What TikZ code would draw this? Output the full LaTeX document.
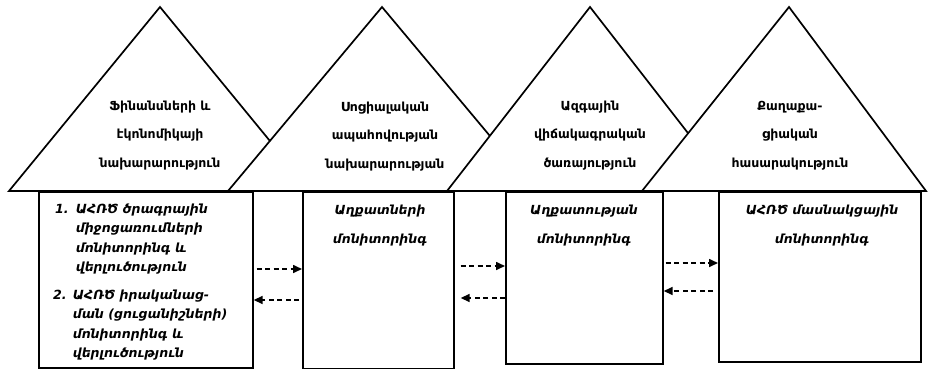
\documentclass[tikz,border=0pt]{standalone}
\usepackage{fontspec}
\setmainfont{DejaVu Sans}
\usetikzlibrary{arrows.meta}
\tikzset{
  tri/.style={draw=black, fill=white, line width=1.7pt, line join=miter},
  boxnode/.style={draw=black, fill=white, line width=1.7pt, anchor=north west, inner sep=0pt},
  tritxt/.style={font=\bfseries\fontsize{12.5}{28.3}\selectfont, align=center, inner sep=0pt, anchor=north},
  boxtxt/.style={font=\bfseries\itshape\fontsize{12.5}{29}\selectfont, align=center, inner sep=0pt, anchor=north},
  listtxt/.style={font=\bfseries\itshape\fontsize{12.6}{19.2}\selectfont, align=left, inner sep=0pt, anchor=north west},
  dar/.style={line width=1.6pt, dash pattern=on 5pt off 3.5pt, -{Triangle[length=9pt,width=8pt]}}
}
\begin{document}
\begin{tikzpicture}[x=1pt,y=-1pt]
\useasboundingbox (0,0) rectangle (928,369);
% triangles
\filldraw[tri] (9,191) -- (160,7) -- (311,191) -- cycle;
\filldraw[tri] (228,191) -- (382,7) -- (536,191) -- cycle;
\filldraw[tri] (447,191) -- (590,7) -- (733,191) -- cycle;
\filldraw[tri] (642,191) -- (789,7) -- (926,191) -- cycle;
% triangle texts
\node[tritxt] (t1) at (160,101) {Ֆինանսների և\\էկոնոմիկայի\\նախարարություն};
\node[tritxt] (t2) at (385,102) {Սոցիալական\\ապահովության\\նախարարության};
\node[tritxt] (t3) at (590,101) {Ազգային\\վիճակագրական\\ծառայություն};
\node[tritxt] (t4) at (790,101) {Քաղաքա-\\ցիական\\հասարակություն};
% boxes
\node[boxnode, minimum width=214pt, minimum height=176pt] (b1) at (38,191) {};
\node[boxnode, minimum width=151pt, minimum height=177pt] (b2) at (302,191) {};
\node[boxnode, minimum width=157pt, minimum height=172pt] (b3) at (505,191) {};
\node[boxnode, minimum width=202pt, minimum height=170pt] (b4) at (718,191) {};
% box texts
\node[listtxt] (l1) at (55,200) {\begin{tabular}{@{}l@{\hspace{7pt}}l@{}}1. & ԱՀՌԾ ծրագրային\\ & միջոցառումների\\ & մոնիտորինգ և\\ & վերլուծություն\end{tabular}};
\node[listtxt] (l2) at (53,286) {\begin{tabular}{@{}l@{\hspace{6pt}}l@{}}2. & ԱՀՌԾ իրականաց-\\ & ման (ցուցանիշների)\\ & մոնիտորինգ և\\ & վերլուծություն\end{tabular}};
\node[boxtxt] (x2) at (380,205) {Աղքատների\\մոնիտորինգ};
\node[boxtxt] (x3) at (584,205) {Աղքատության\\մոնիտորինգ};
\node[boxtxt] (x4) at (822,205) {ԱՀՌԾ մասնակցային\\մոնիտորինգ};
% arrow heights
\coordinate (r12) at (0,269);
\coordinate (l12) at (0,300);
\coordinate (r23) at (0,266);
\coordinate (l23) at (0,298);
\coordinate (r34) at (0,263);
\coordinate (l34) at (0,291);
\draw[dar] ([xshift=3pt]b1.east |- r12) -- (b2.west |- r12);
\draw[dar] ([xshift=-3pt]b2.west |- l12) -- (b1.east |- l12);
\draw[dar] ([xshift=6pt]b2.east |- r23) -- (b3.west |- r23);
\draw[dar] (b3.west |- l23) -- ([xshift=6pt]b2.east |- l23);
\draw[dar] ([xshift=2pt]b3.east |- r34) -- (b4.west |- r34);
\draw[dar] ([xshift=-5pt]b4.west |- l34) -- (b3.east |- l34);
\end{tikzpicture}
\end{document}
